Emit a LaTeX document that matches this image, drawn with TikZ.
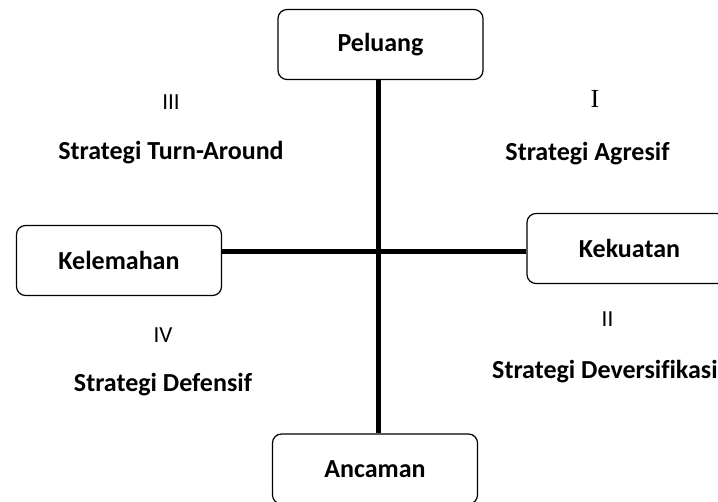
\documentclass[tikz,border=0pt]{standalone}
\usepackage{fontspec}
\setmainfont{Carlito}[Ligatures=NoCommon]
\newfontfamily\romanfont{Liberation Serif}
\usetikzlibrary{positioning}

\tikzset{
  swotbox/.style={draw, rounded corners=9pt, line width=1.2pt,
    minimum width=205pt, minimum height=70pt,
    font=\bfseries\fontsize{26}{31}\selectfont},
  quadnum/.style={font=\fontsize{23}{28}\selectfont},
  quadname/.style={font=\bfseries\fontsize{26}{31}\selectfont},
  axisline/.style={line width=5pt}
}

\begin{document}
\begin{tikzpicture}[x=1pt,y=-1pt]
\useasboundingbox (0,0) rectangle (718,502);
\clip (0,0) rectangle (718,502);
% the four factors
\node[swotbox] (peluang) at (380.5,44.5) {Peluang};
\node[swotbox] (kelemahan) at (119,260.5) {Kelemahan};
\node[swotbox] (kekuatan) at (629.5,248.5) {Kekuatan};
\node[swotbox] (ancaman) at (375,469) {Ancaman};
\coordinate (centre) at (378,252);
% axes
\draw[axisline] (centre |- peluang.south) -- (centre |- ancaman.north);
\draw[axisline] (centre -| kelemahan.east) -- (centre -| kekuatan.west);
% quadrants
\node[quadnum] (numIII) at (171,102) {III};
\node[quadname] (turnaround) at (171,153) {Strategi Turn-Around};
\node[quadnum,font=\romanfont\fontsize{26}{31}\selectfont] (numI) at (595,99) {I};
\node[quadname] (agresif) at (587.5,154) {Strategi Agresif};
\node[quadnum] (numIV) at (163,335) {IV};
\node[quadname] (defensif) at (163,385) {Strategi Defensif};
\node[quadnum] (numII) at (607.5,319) {II};
\node[quadname,anchor=west,inner sep=0pt] (deversifikasi) at (492,372) {Strategi Deversifikasi};
\end{tikzpicture}
\end{document}
